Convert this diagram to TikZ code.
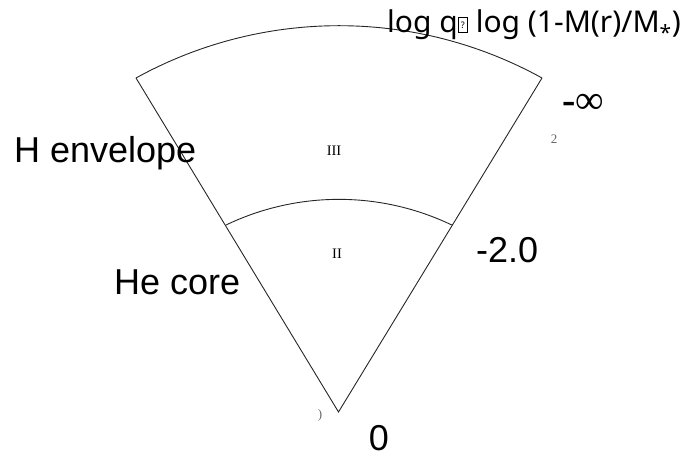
\documentclass[tikz,border=0pt]{standalone}
\usepackage{fontspec}
\setmainfont{Liberation Sans}
\newfontfamily\serifface{Liberation Serif}
\newfontfamily\titleface{Noto Sans}
% missing-glyph box as it is printed in the axis title
\newcommand\tofubox{{\setlength\fboxsep{0pt}\setlength\fboxrule{0.6pt}%
  \raisebox{0.5pt}{\fbox{\makebox[9pt]{\rule{0pt}{15pt}\raisebox{3.5pt}{\fontsize{9}{9}\selectfont ?}}}}}}
\begin{document}
\begin{tikzpicture}[x=1pt,y=1pt,
  wedge/.style={draw=black!85, line width=0.9pt},
  side/.style={font=\fontsize{36}{36}\selectfont, inner sep=0pt, anchor=base west},
  zone/.style={font=\serifface\fontsize{14.5}{14.5}\selectfont, inner sep=0pt},
  stray/.style={font=\serifface\fontsize{13}{13}\selectfont, inner sep=0pt, text=black!60},
  ]
\useasboundingbox (0,0) rectangle (685,456);
% wedge corners
\coordinate (apex) at (338.5,44);
\coordinate (oL) at (136,378);
\coordinate (oR) at (542,378);
\coordinate (iL) at (226,231);
\coordinate (iR) at (452,231);
% sides and the two shells
\draw[wedge] (oL) -- (apex) -- (oR);
\draw[wedge] (oL) arc[start angle=118.9, end angle=61.1, radius=420.1];
\draw[wedge] (iL) arc[start angle=115.6, end angle=64.4, radius=261.3];
% zone numerals
\node[zone] (z3) at (334,305) {III};
\node[zone] (z2) at (337,202) {II};
% side labels
\node[side] (env) at (14,294) {H envelope};
\node[side] (core) at (114,162) {He core};
\node[side] (m2) at (476,194) {-2.0};
\node[side, anchor=base] (zero) at (379,6) {0};
\node[font=\serifface\fontsize{40}{40}\selectfont, inner sep=0pt, anchor=base west]
  (inf) at (562,342) {{\bfseries -}∞};
% axis title
\node[font=\titleface\fontsize{30}{30}\selectfont, inner sep=0pt, anchor=base west]
  (title) at (387,423) {log q\tofubox{} log (1-M(r)/M\textsubscript{*})};
% clipped glyph remnants
\node[stray] (s2) at (554,317) {2};
\node[stray] (sp) at (320,41) {)};
\end{tikzpicture}
\end{document}
